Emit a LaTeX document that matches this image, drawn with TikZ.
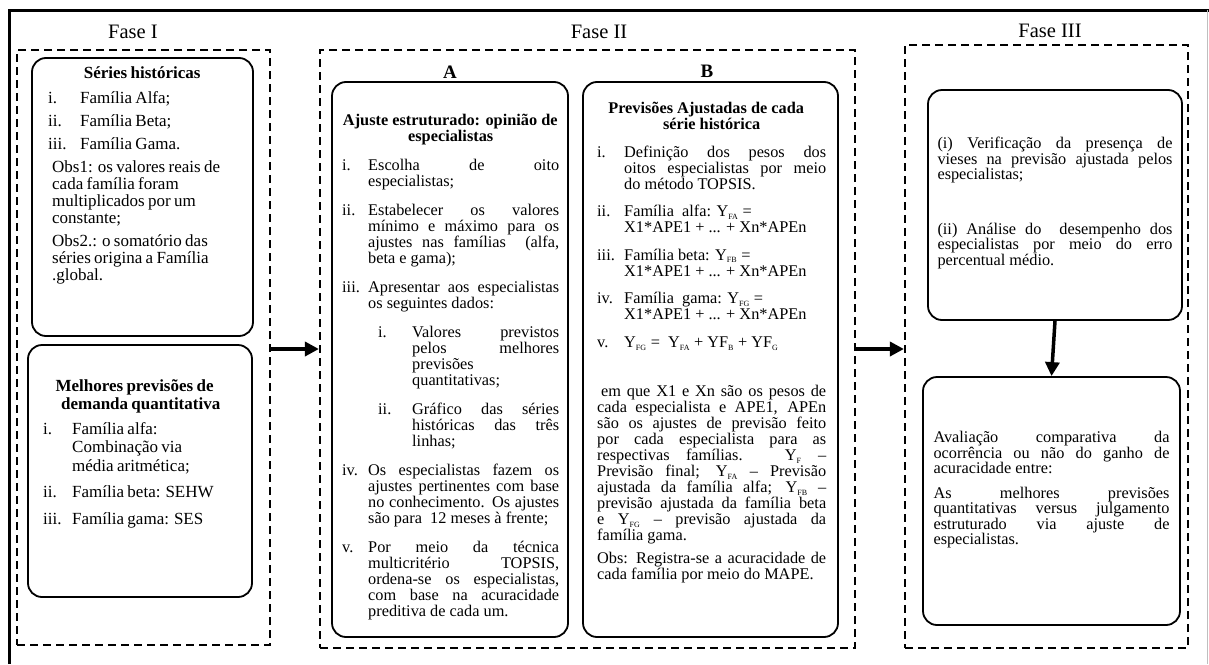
\documentclass[tikz,border=0pt]{standalone}
\usepackage{fontspec}
\setmainfont{Liberation Serif}
\usetikzlibrary{arrows.meta}

% list helpers: label in a box of the hanging width, optional left offset
\newcommand\lstitem[3]{\par\hangindent=#1\hangafter=1\noindent\makebox[#1][l]{#2}#3}
\newcommand\lstsubitem[4]{\par\hangindent=#2\hangafter=1\noindent\hspace*{#1}\makebox[\dimexpr#2-#1\relax][l]{#3}#4}
\newcommand\sbs[1]{\textsubscript{\fontsize{8}{8}\selectfont #1}}
% text setting inside the cards: fixed line pitch, no hyphenation
\newcommand\cardtext[2]{\fontsize{#1}{#2}\selectfont\baselineskip=#2pt\relax
  \lineskiplimit=-100pt \tolerance=9999 \hyphenpenalty=10000 \emergencystretch=20pt}

\tikzset{
  phase/.style={draw, line width=2.2pt, dash pattern=on 8pt off 5pt, inner sep=0pt},
  card/.style={draw, line width=1.8pt, rounded corners=14pt, inner sep=0pt},
  txt/.style={inner sep=0pt, anchor=north west},
  jtxt/.style={txt, align=justify},
  phasetitle/.style={inner sep=0pt, font=\fontsize{20.5}{22}\selectfont},
  letter/.style={inner sep=0pt, font=\fontsize{19}{21}\selectfont\bfseries},
  arrowline/.style={line width=3.5pt, -{Triangle[length=14pt,width=14pt]}},
}

\begin{document}
\begin{tikzpicture}[x=1pt, y=-1pt]
\useasboundingbox (0,0) rectangle (1209,664);

% outer frame
\draw[line width=3pt] (9,664) -- (9,10) -- (1209,10);
\draw[line width=0.8pt, black!25] (1207,10) -- (1207,664);

% phase frames
\node[phase, minimum width=253pt, minimum height=595pt] (f1) at (143.5,347.5) {};
\node[phase, minimum width=535pt, minimum height=598pt] (f2) at (587.5,349) {};
\node[phase, minimum width=283pt, minimum height=603pt] (f3) at (1046.5,346.5) {};

\node[phasetitle] (t1) at (133,32) {Fase I};
\node[phasetitle] (t2) at (599,32) {Fase II};
\node[phasetitle] (t3) at (1050,31) {Fase III};

% Fase I cards
\node[card, minimum width=221pt, minimum height=278pt] (series) at (142.5,197) {};
\node[card, minimum width=224pt, minimum height=252pt] (best) at (140,471) {};

\node[txt, text width=188pt] (seriestxt) at (48,66) {%
  \cardtext{17}{17}\raggedright
  {\centering\bfseries Séries históricas\par}
  \vspace{2pt}\parskip=6pt
  \lstitem{32pt}{i.}{Família Alfa;}
  \lstitem{32pt}{ii.}{Família Beta;}
  \lstitem{32pt}{iii.}{Família Gama.}
  \par{\leftskip=4pt\noindent Obs1: os valores reais de\newline cada família foram\newline multiplicados por um\newline constante;\par}
  \par{\leftskip=4pt\noindent Obs2.: o somatório das\newline séries origina a Família\newline .global.\par}};

\node[txt, text width=195pt] (besttxt) at (43,379) {%
  \cardtext{17}{18.5}\raggedright
  {\centering\bfseries Melhores previsões de\newline demanda quantitativa\par}
  \vspace{-2pt}\parskip=8pt
  \lstitem{29pt}{i.}{Família alfa:\newline Combinação via\newline média aritmética;}
  \lstitem{29pt}{ii.}{Família beta: SEHW}
  \lstitem{29pt}{iii.}{Família gama: SES}\par};

% Fase II cards
\node[letter] (labA) at (450,72) {A};
\node[letter] (labB) at (707,71) {B};

\node[card, minimum width=236pt, minimum height=555pt] (adj) at (450,359.5) {};
\node[card, minimum width=255pt, minimum height=555pt] (pred) at (710.5,359.5) {};

\node[jtxt, text width=217pt] (adjtxt) at (342,114) {%
  \cardtext{16.3}{16}
  {\centering\bfseries Ajuste estruturado: opinião de\newline especialistas\par}
  \parskip=13pt
  \lstitem{26pt}{i.}{Escolha de oito\linebreak especialistas;}
  \lstitem{26pt}{ii.}{Estabelecer os valores\linebreak mínimo e máximo para os\linebreak ajustes nas famílias \ (alfa,\linebreak beta e gama);}
  \lstitem{26pt}{iii.}{Apresentar aos especialistas\linebreak os seguintes dados:}
  \lstsubitem{36pt}{70pt}{i.}{Valores previstos\linebreak pelos melhores\linebreak previsões\hfill\null\linebreak quantitativas;}
  \lstsubitem{36pt}{70pt}{ii.}{Gráfico das séries\linebreak históricas das três\linebreak linhas;}
  \lstitem{26pt}{iv.}{Os especialistas fazem os\linebreak ajustes pertinentes com base\linebreak no conhecimento. Os ajustes\linebreak são para \ 12 meses à frente;}
  \lstitem{26pt}{v.}{Por meio da técnica\linebreak multicritério TOPSIS,\linebreak ordena-se os especialistas,\linebreak com base na acuracidade\linebreak preditiva de cada um.}\par};

\node[jtxt, text width=229pt] (predtxt) at (597,102) {%
  \cardtext{16.3}{16}
  {\centering\bfseries Previsões Ajustadas de cada\newline série histórica\par}
  \parskip=11.6pt
  \lstitem{27pt}{i.}{Definição dos pesos dos\linebreak oitos especialistas por meio\linebreak do método TOPSIS.}
  \lstitem{27pt}{ii.}{Família \ alfa: Y\sbs{FA} =\newline X1*APE1 + ... + Xn*APEn}
  \lstitem{27pt}{iii.}{Família beta: Y\sbs{FB} =\newline X1*APE1 + ... + Xn*APEn}
  \lstitem{27pt}{iv.}{Família \ gama: Y\sbs{FG} =\newline X1*APE1 + ... + Xn*APEn}
  \lstitem{27pt}{v.}{Y\sbs{FG} = \ Y\sbs{FA} + YF\sbs{B} + YF\sbs{G}}
  \par\vspace{26pt}\parskip=7pt
  \noindent\hspace*{4pt}em que X1 e Xn são os pesos de\linebreak cada especialista e APE1, APEn\linebreak são os ajustes de previsão feito\linebreak por cada especialista para as\linebreak respectivas famílias. Y\sbs{F} --\linebreak Previsão final; Y\sbs{FA} -- Previsão\linebreak ajustada da família alfa; Y\sbs{FB} --\linebreak previsão ajustada da família beta\linebreak e Y\sbs{FG} -- previsão ajustada da\linebreak família gama.
  \par\noindent Obs: Registra-se a acuracidade de\linebreak cada família por meio do MAPE.\par};

% Fase III cards
\node[card, minimum width=254pt, minimum height=230pt] (bias) at (1055,205) {};
\node[card, minimum width=257pt, minimum height=248pt] (eval) at (1051.5,501) {};

\node[jtxt, anchor=center, text width=235pt] (biastxt) at (1055,203) {%
  \cardtext{16.3}{15.5}
  \noindent(i) Verificação da presença de\linebreak vieses na previsão ajustada pelos\linebreak especialistas;\par
  \vspace{39pt}
  \noindent(ii) Análise do \ desempenho dos\linebreak especialistas por meio do erro\linebreak percentual médio.\par};

\node[jtxt, anchor=center, text width=236pt] (evaltxt) at (1051.5,490) {%
  \cardtext{16.3}{15.5}\parskip=9pt
  \noindent Avaliação comparativa da\linebreak ocorrência ou não do ganho de\linebreak acuracidade entre:\par
  \noindent As melhores previsões\linebreak quantitativas versus julgamento\linebreak estruturado via ajuste de\linebreak especialistas.\par};

% connectors
\coordinate (row) at (0,349);
\draw[arrowline] (f1.east |- row) -- (f2.west |- row);
\draw[arrowline] (f2.east |- row) -- (f3.west |- row);
\draw[arrowline] (bias.south) -- (eval.north);
\end{tikzpicture}
\end{document}
